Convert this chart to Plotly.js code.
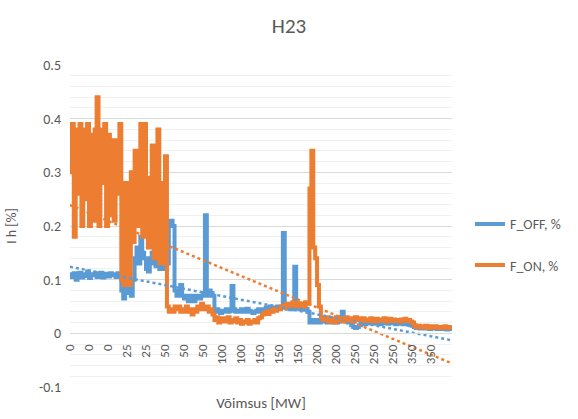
<!DOCTYPE html>
<html>
<head>
<meta charset="utf-8">
<script src="https://cdn.plot.ly/plotly-3.0.1.min.js"></script>
<style>html,body{margin:0;padding:0;background:#fff;}#chart{width:578px;height:419px;}</style>
</head>
<body>
<div id="chart"></div>
<script>
// Tick labels on the category axis (one label every 10 samples)
const xTickLabels = ['0','0','0','25','25','50','50','50','100','100','150','150','150','200','200','250','250','250','350','350'];
const labelEvery = 10;

// Series values (I h, %)
const fOff = [
  0.11,0.105,0.112,0.10,0.108,0.113,0.104,0.11,0.107,0.115,0.103,0.11,0.108,0.112,0.105,0.11,0.113,0.104,0.109,0.111,0.106,0.112,0.108,0.11,0.105,0.112,
  0.11,0.08,0.065,0.09,0.075,0.095,0.07,0.10,0.14,0.16,0.13,0.18,0.15,0.14,0.12,0.115,0.14,0.15,0.13,0.125,0.135,0.12,0.13,0.125,0.12,0.13,0.21,0.21,0.20,0.08,
  0.07,0.075,0.09,0.07,0.065,0.07,0.06,0.065,0.07,0.06,0.065,0.07,0.065,0.07,0.075,0.22,0.07,0.08,0.075,0.07,
  0.04,0.045,0.04,0.038,0.042,0.04,0.045,0.04,0.042,0.088,0.045,0.04,0.042,0.04,0.045,0.043,0.04,0.046,0.042,0.04,0.038,0.04,0.042,0.045,
  0.04,0.045,0.042,0.048,0.045,0.05,0.046,0.048,0.045,0.05,0.047,0.048,0.187,0.05,0.046,0.048,0.045,0.05,0.124,0.048,0.046,0.045,0.048,0.044,0.046,0.04,
  0.02,0.025,0.02,0.022,0.025,0.02,0.024,0.022,
  0.022,0.02,0.025,0.02,0.022,0.025,0.02,0.022,0.03,0.04,0.025,0.022,0.02,0.022,0.015,0.012,0.01,0.012,0.015,
  0.018,0.02,0.017,0.021,0.019,0.02,0.018,0.022,0.019,0.02,0.017,0.021,0.019,0.02,0.018,0.021,0.019,0.02,0.017,0.02,0.018,0.019,0.017,0.02,0.018,0.016,0.015,0.014,
  0.012,0.01,0.011,0.009,0.01,0.011,0.009,0.01,0.008,0.01,0.009,0.011,0.008,0.01,0.009,0.008,0.01,0.007,0.009,0.008,0.006
];
const fOn = [
  0.30,0.39,0.18,0.38,0.26,0.39,0.20,0.38,0.25,0.39,0.20,0.37,0.21,0.38,0.44,0.20,0.38,0.28,0.39,0.20,0.37,0.22,0.36,0.21,0.36,0.26,
  0.39,0.10,0.09,0.28,0.12,0.09,0.30,0.17,0.34,0.20,0.33,0.39,0.18,0.39,0.25,0.16,0.29,0.35,0.14,0.30,0.38,0.13,0.28,0.13,0.33,0.05,0.04,0.045,0.04,0.05,
  0.045,0.05,0.04,0.045,0.04,0.05,0.045,0.04,0.035,0.045,0.04,0.05,0.045,0.055,0.05,0.045,0.05,0.04,0.045,0.035,
  0.025,0.03,0.02,0.025,0.028,0.022,0.025,0.03,0.02,0.025,0.022,0.028,0.02,0.025,0.018,0.022,0.02,0.025,0.018,0.022,0.02,0.025,0.02,0.028,
  0.03,0.035,0.038,0.04,0.036,0.042,0.04,0.045,0.042,0.048,0.045,0.05,0.052,0.048,0.055,0.05,0.053,0.058,0.055,0.05,0.056,0.052,0.055,0.05,0.058,0.055,
  0.27,0.34,0.16,0.14,0.09,0.05,0.03,0.025,
  0.025,0.03,0.022,0.028,0.025,0.02,0.03,0.025,0.028,0.022,0.025,0.03,0.024,0.028,0.025,0.022,0.03,0.025,0.028,
  0.025,0.028,0.022,0.026,0.024,0.028,0.022,0.025,0.027,0.023,0.026,0.024,0.028,0.022,0.025,0.027,0.023,0.026,0.024,0.025,0.022,0.026,0.024,0.027,0.023,0.025,0.022,0.02,
  0.015,0.012,0.014,0.011,0.013,0.012,0.014,0.01,0.013,0.012,0.011,0.013,0.012,0.01,0.012,0.011,0.013,0.01,0.012,0.011,0.01
];

// Linear trendline values at first and last sample
const trendOff = [0.124, -0.013];
const trendOn = [0.239, -0.056];

const yTickVals = [-0.1, 0, 0.1, 0.2, 0.3, 0.4, 0.5];
const yTickText = ['-0.1', '0', '0.1', '0.2', '0.3', '0.4', '0.5'];

const idx = fOff.map((_, i) => i);
const last = idx.length - 1;
const xTickVals = xTickLabels.map((_, i) => i * labelEvery);

const BLUE = '#5B9BD5', ORANGE = '#ED7D31', TXT = '#595959';
const FONT = 'Carlito, Calibri, Lato, sans-serif';

const traces = [
  {x: idx, y: fOff, type: 'scatter', mode: 'lines', name: 'F_OFF, %',
   line: {color: BLUE, width: 4, shape: 'hv'}, legendgroup: 'a'},
  {x: idx, y: fOn, type: 'scatter', mode: 'lines', name: 'F_ON, %',
   line: {color: ORANGE, width: 4, shape: 'hv'}, legendgroup: 'b'},
  {x: [0, last], y: trendOff, type: 'scatter', mode: 'lines', showlegend: false,
   line: {color: BLUE, width: 2.5, dash: 'dot'}, hoverinfo: 'skip'},
  {x: [0, last], y: trendOn, type: 'scatter', mode: 'lines', showlegend: false,
   line: {color: ORANGE, width: 2.5, dash: 'dot'}, hoverinfo: 'skip'}
];

const yMin = -0.1, yMax = 0.5;
const layout = {
  width: 578, height: 419,
  margin: {l: 70, r: 123, t: 65, b: 32},
  paper_bgcolor: '#fff', plot_bgcolor: '#fff',
  font: {family: FONT, color: TXT, size: 14},
  title: {text: 'H23', font: {size: 21, color: TXT, family: FONT},
          x: 0.5, xref: 'container', y: 0.938, yref: 'container', yanchor: 'middle'},
  showlegend: true,
  legend: {x: 1.047, y: 0.555, xanchor: 'left', yanchor: 'top',
           font: {size: 14, color: TXT}, tracegroupgap: 20, bgcolor: 'rgba(0,0,0,0)'},
  xaxis: {
    range: [0, last], tickmode: 'array', tickvals: xTickVals, ticktext: xTickLabels,
    tickangle: -90, tickfont: {size: 13, color: TXT},
    anchor: 'free', position: (0 - yMin) / (yMax - yMin),
    showline: true, linecolor: '#D9D9D9', linewidth: 1,
    showgrid: false, zeroline: false, ticks: '', ticklabelstandoff: 5,
    title: {text: 'Võimsus [MW]', font: {size: 15, color: TXT}, standoff: 34}
  },
  yaxis: {
    range: [yMin, yMax], tickmode: 'array', tickvals: yTickVals, ticktext: yTickText,
    tickfont: {size: 14, color: TXT},
    showgrid: true, gridcolor: '#D9D9D9', gridwidth: 1,
    minor: {dtick: 0.02, showgrid: true, gridcolor: '#F0F0F0', gridwidth: 1, ticks: ''},
    zeroline: false, showline: false, ticks: '', ticklabelstandoff: 8,
    title: {text: 'I h [%]', font: {size: 14, color: TXT}, standoff: 19}
  }
};

Plotly.newPlot('chart', traces, layout, {displayModeBar: false, staticPlot: true});
</script>
</body>
</html>
